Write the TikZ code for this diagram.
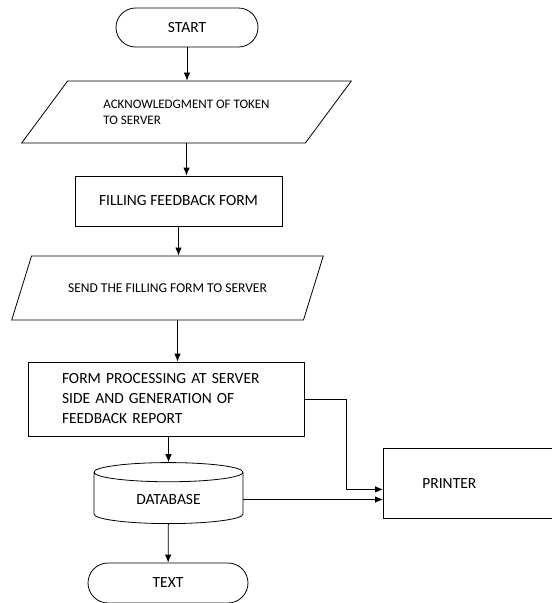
\documentclass[tikz,border=0pt]{standalone}
\usepackage{fontspec}
\setmainfont{Carlito}
\usetikzlibrary{arrows.meta,shapes}
\tikzset{>={Latex[length=8pt,width=6.5pt]}}
\tikzstyle{terminal}=[rectangle,draw,line width=0.8pt,font=\fontsize{15.5}{19}\selectfont]
\tikzstyle{iobox}=[trapezium,draw,line width=0.8pt,trapezium stretches=true,align=left]
\tikzstyle{procbox}=[rectangle,draw,line width=0.8pt,font=\fontsize{15.5}{20}\selectfont]
\tikzstyle{dbase}=[cylinder,shape border rotate=90,draw,line width=0.8pt,aspect=0.27,font=\fontsize{15.5}{19}\selectfont]

\begin{document}
\begin{tikzpicture}[x=1pt,y=-1pt,line width=0.8pt]
	\useasboundingbox (0,0) rectangle (552,603);

	\node[terminal, minimum width=142pt, minimum height=39pt, rounded corners=19.5pt] (start) at (187,27.5) {START};
	\node[iobox, trapezium left angle=43, trapezium right angle=137, minimum width=330pt, minimum height=62pt, font=\fontsize{13}{16}\selectfont] (ack) at (186.5,112) {ACKNOWLEDGMENT OF TOKEN\\TO SERVER};
	\node[procbox, minimum width=207pt, minimum height=50pt] (fill) at (178.5,201) {FILLING FEEDBACK FORM};
	\node[iobox, trapezium left angle=46, trapezium right angle=134, minimum width=312pt, minimum height=64pt, font=\fontsize{13.5}{16}\selectfont] (send) at (167.5,288) {SEND THE FILLING FORM TO SERVER};
	\node[procbox, minimum width=276pt, minimum height=74pt, text width=208pt, align=left] (proc) at (166,399) {FORM PROCESSING AT SERVER\\SIDE AND GENERATION OF\\FEEDBACK REPORT};
	\node[dbase, minimum width=149pt, minimum height=61pt] (db) at (168.5,499.5) {DATABASE};
	\node[terminal, minimum width=160pt, minimum height=40pt, rounded corners=20pt] (txt) at (168,583) {TEXT};
	\node[procbox, anchor=north west, minimum height=70pt, text width=100pt, inner xsep=39pt, align=left] (printer) at (383,448) {PRINTER};

	\draw[->] (start) -- (start |- ack.north);
	\draw[->] (ack.south) -- (ack.south |- fill.north);
	\draw[->] (fill.south) -- (fill.south |- send.north);
	\draw[->] ([xshift=10pt]send.south) -- ([xshift=10pt]send.south |- proc.north);
	\draw[->] (proc.south -| db.north) -- (db.north);
	\draw[->] (proc.east) -- ++(42,0) |- ([yshift=-6pt]printer.west);
	\draw[->] (db.east) -- (db.east -| printer.west);
	\draw[->] (db) -- (txt);
\end{tikzpicture}
\end{document}
